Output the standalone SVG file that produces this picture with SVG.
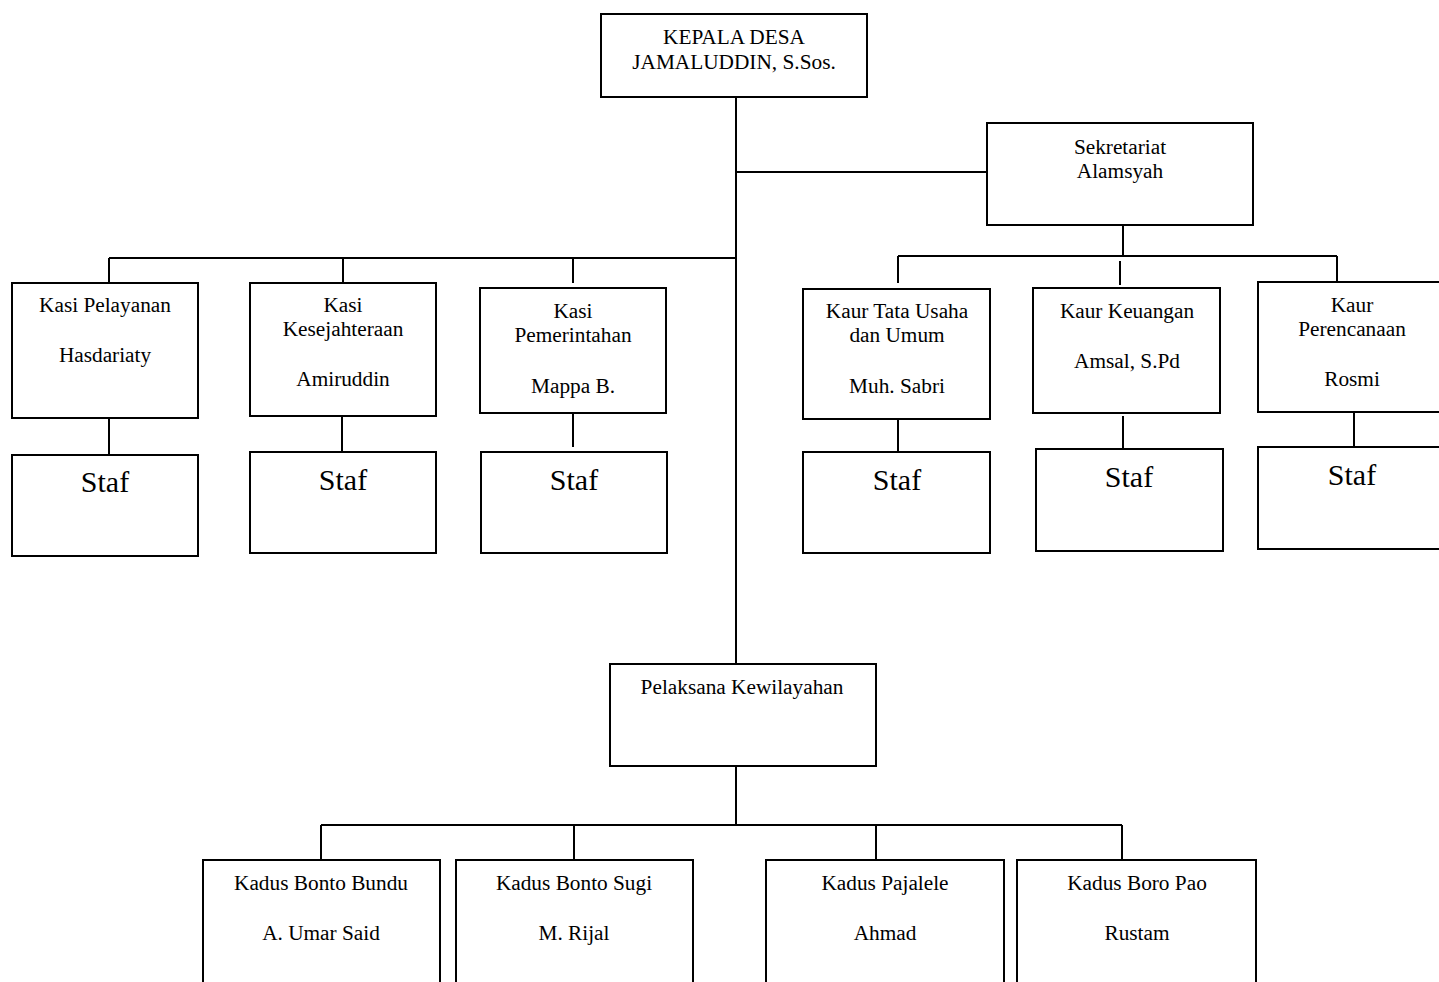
<svg xmlns="http://www.w3.org/2000/svg" width="1439" height="982" viewBox="0 0 1439 982">
<style>
.box{fill:#fff;stroke:#000;stroke-width:2}
.ln{stroke:#000;stroke-width:2;fill:none}
text{font-family:"Liberation Serif","Times New Roman",serif;font-size:21.3px;text-anchor:middle;fill:#000}
.big{font-size:30px}
</style>
<rect width="1439" height="982" fill="#fff"/>
<g id="connectors">
<path class="ln" d="M736 97V664"/>
<path class="ln" d="M736 172H987"/>
<path class="ln" d="M109 258H736"/>
<path class="ln" d="M109 258V283M343 258V284M573 258V283"/>
<path class="ln" d="M109 418V455M342 416V452M573 413V447"/>
<path class="ln" d="M1123 225V256M898 256H1337M898 256V283M1120 261V285M1337 256V283"/>
<path class="ln" d="M898 419V452M1123 416V449M1354 412V447"/>
<path class="ln" d="M736 766V825M321 825H1122M321 825V860M574 825V860M876 825V860M1122 825V860"/>
</g>
<g id="kepala-desa"><rect class="box" x="601" y="14" width="266" height="83"/><text x="734" y="44">KEPALA DESA</text><text x="734" y="69">JAMALUDDIN, S.Sos.</text></g>
<g id="sekretariat"><rect class="box" x="987" y="123" width="266" height="102"/><text x="1120" y="154">Sekretariat</text><text x="1120" y="178">Alamsyah</text></g>
<g id="kasi-pelayanan"><rect class="box" x="12" y="283" width="186" height="135"/><text x="105" y="312">Kasi Pelayanan</text><text x="105" y="362">Hasdariaty</text></g>
<g id="staf-pelayanan"><rect class="box" x="12" y="455" width="186" height="101"/><text class="big" x="105" y="492">Staf</text></g>
<g id="kasi-kesejahteraan"><rect class="box" x="250" y="283" width="186" height="133"/><text x="343" y="312">Kasi</text><text x="343" y="336">Kesejahteraan</text><text x="343" y="386">Amiruddin</text></g>
<g id="staf-kesejahteraan"><rect class="box" x="250" y="452" width="186" height="101"/><text class="big" x="343" y="490">Staf</text></g>
<g id="kasi-pemerintahan"><rect class="box" x="480" y="288" width="186" height="125"/><text x="573" y="318">Kasi</text><text x="573" y="342">Pemerintahan</text><text x="573" y="393">Mappa B.</text></g>
<g id="staf-pemerintahan"><rect class="box" x="481" y="452" width="186" height="101"/><text class="big" x="574" y="490">Staf</text></g>
<g id="kaur-tata-usaha"><rect class="box" x="803" y="289" width="187" height="130"/><text x="897" y="318">Kaur Tata Usaha</text><text x="897" y="342">dan Umum</text><text x="897" y="393">Muh. Sabri</text></g>
<g id="staf-tata-usaha"><rect class="box" x="803" y="452" width="187" height="101"/><text class="big" x="897" y="490">Staf</text></g>
<g id="kaur-keuangan"><rect class="box" x="1033" y="288" width="187" height="125"/><text x="1127" y="318">Kaur Keuangan</text><text x="1127" y="368">Amsal, S.Pd</text></g>
<g id="staf-keuangan"><rect class="box" x="1036" y="449" width="187" height="102"/><text class="big" x="1129" y="487">Staf</text></g>
<g id="kaur-perencanaan"><rect class="box" x="1258" y="282" width="190" height="130"/><text x="1352" y="312">Kaur</text><text x="1352" y="336">Perencanaan</text><text x="1352" y="386">Rosmi</text></g>
<g id="staf-perencanaan"><rect class="box" x="1258" y="447" width="190" height="102"/><text class="big" x="1352" y="485">Staf</text></g>
<g id="pelaksana-kewilayahan"><rect class="box" x="610" y="664" width="266" height="102"/><text x="742" y="694">Pelaksana Kewilayahan</text></g>
<g id="kadus-bonto-bundu"><rect class="box" x="203" y="860" width="237" height="140"/><text x="321" y="890">Kadus Bonto Bundu</text><text x="321" y="940">A. Umar Said</text></g>
<g id="kadus-bonto-sugi"><rect class="box" x="456" y="860" width="237" height="140"/><text x="574" y="890">Kadus Bonto Sugi</text><text x="574" y="940">M. Rijal</text></g>
<g id="kadus-pajalele"><rect class="box" x="766" y="860" width="238" height="140"/><text x="885" y="890">Kadus Pajalele</text><text x="885" y="940">Ahmad</text></g>
<g id="kadus-boro-pao"><rect class="box" x="1017" y="860" width="239" height="140"/><text x="1137" y="890">Kadus Boro Pao</text><text x="1137" y="940">Rustam</text></g>
</svg>
